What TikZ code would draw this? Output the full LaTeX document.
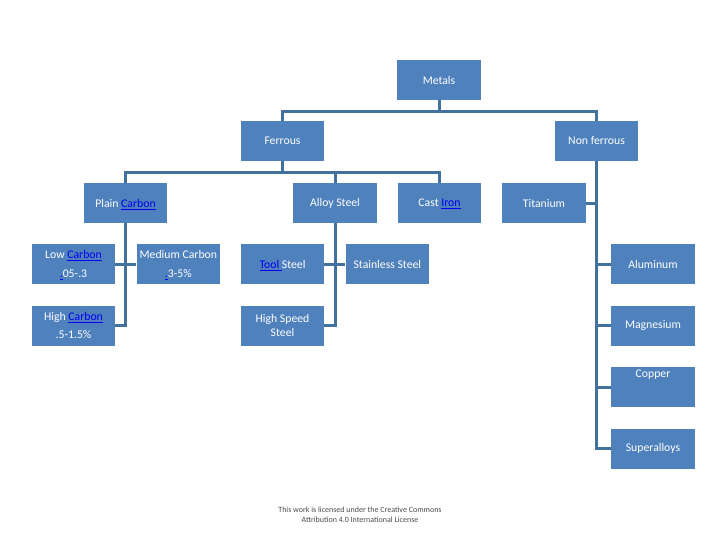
\documentclass[tikz,border=0pt]{standalone}
\usepackage{amsmath}
\usepackage{fontspec}
\setmainfont{Carlito}
\usepackage{xcolor}
\usepackage{tikz}
\usetikzlibrary{positioning}
\definecolor{boxblue}{HTML}{4F81BD}
\definecolor{lineblue}{HTML}{41719C}
\definecolor{linkblue}{HTML}{0000EE}
\newcommand{\lnk}[1]{\textcolor{linkblue}{\smash[b]{\underline{#1}}}}

\begin{document}
\begin{tikzpicture}[x=0.75pt,y=-0.75pt,node distance=15.75pt and 15.75pt,
    box/.style={fill=boxblue,text=white,align=center,inner sep=0pt,
        minimum width=62.5pt,minimum height=30pt,
        font=\fontsize{8.8}{10.5}\selectfont},
    conn/.style={draw=lineblue,line width=2.25pt}]
  \fill[white] (0,0) rectangle (720,540);
  \useasboundingbox (0,0) rectangle (720,540);

  % top levels
  \node[box] (metals) at (439,80) {Metals};
  \node[box] (ferrous) at (282.5,141) {Ferrous};
  \node[box] (nonferrous) at (596.5,141) {Non ferrous};
  \node[box] (plain) at (125.5,203) {Plain \lnk{Carbon}};
  \node[box] (alloy) at (335,203) {Alloy Steel};
  \node[box] (cast) at (439.5,203) {Cast \lnk{Iron}};
  \node[box] (titanium) at (544,203) {Titanium};

  % plain carbon
  \node[box] (low) at (73.5,264) {Low \lnk{Carbon}\\[3.5pt]\lnk{.}05-.3};
  \node[box,right=of low] (medium) {Medium Carbon\\[3.5pt]\lnk{.}3-5\%};
  \node[box,below=of low] (high) {High \lnk{Carbon}\\[3.5pt].5-1.5\%};

  % alloy steel
  \node[box] (tool) at (282.5,264) {\lnk{Tool }Steel};
  \node[box,right=of tool] (stainless) {Stainless Steel};
  \node[box,below=of tool] (hss) {High Speed\\Steel};

  % non ferrous
  \node[box] (aluminum) at (653,264) {Aluminum};
  \node[box,below=of aluminum] (magnesium) {Magnesium};
  \node[box,below=of magnesium,align=left,text height=7pt,text depth=22pt] (copper) {Copper};
  \node[box,below=of copper] (superalloys) {Superalloys};

  \node[align=center,text=black!70,font=\fontsize{6}{7.5}\selectfont] (cc) at (360,515)
    {This work is licensed under the Creative Commons\\Attribution 4.0 International License};

  \draw[conn] (metals.south) -- ++(0,11) -| (ferrous.north);
  \draw[conn] (metals.south) -- ++(0,11) -| (nonferrous.north);
  \foreach \n in {plain,alloy,cast}
    \draw[conn] (ferrous.south) -- ++(0,11) -| (\n.north);
  \draw[conn] (plain.south) |- (high.east);
  \draw[conn] (low.east) -- (medium.west);
  \draw[conn] (alloy.south) |- (hss.east);
  \draw[conn] (tool.east) -- (stainless.west);
  \draw[conn] (nonferrous.south) |- (superalloys.west);
  \draw[conn] (titanium.east) -- (titanium.east -| nonferrous.south);
  \foreach \n in {aluminum,magnesium,copper}
    \draw[conn] (\n.west) -- (\n.west -| nonferrous.south);
\end{tikzpicture}
\end{document}
